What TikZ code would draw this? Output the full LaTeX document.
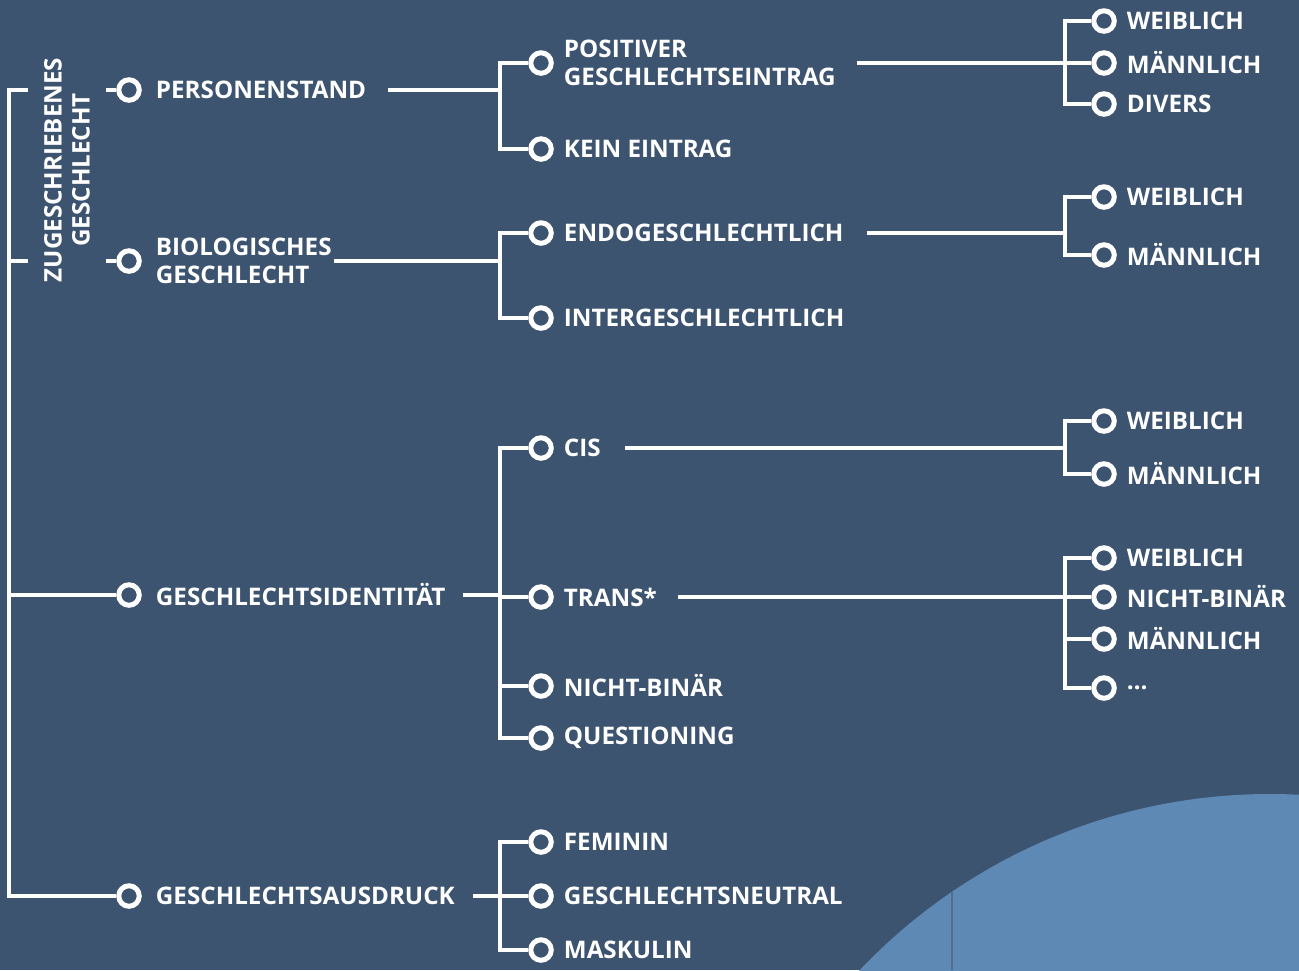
\documentclass[tikz,border=0pt]{standalone}
\usepackage{fontspec}
\newfontfamily\treefont{Open Sans}
\usetikzlibrary{positioning}
\definecolor{bgblue}{RGB}{60,84,112}
\definecolor{arcblue}{RGB}{94,137,181}
\definecolor{seamblue}{RGB}{78,110,146}
\tikzset{
  ring/.style={circle, draw=white, line width=5pt, fill=bgblue, minimum size=20.5pt, inner sep=0pt},
  lbl/.style={text=white, font=\treefont\bfseries\fontsize{24.2}{28}\selectfont, align=left, inner sep=0pt},
  link/.style={draw=white, line width=4.2pt},
}

\begin{document}
\begin{tikzpicture}[x=1pt, y=-1pt]
  % background and the arc in the corner
  \fill[bgblue] (0,0) rectangle (1299,970);
  \useasboundingbox (0,0) rectangle (1299,970);
  \begin{scope}
    \clip (0,0) rectangle (1299,970);
    \fill[arcblue] (1270,1360) circle (566pt);
  \end{scope}
  \draw[seamblue, line width=1.2pt] (952,892) -- (952,970);

  % columns of the brackets
  \coordinate (col1) at (9,0);
  \coordinate (col2) at (500,0);
  \coordinate (col4) at (1065,0);

  \node[lbl, rotate=90, align=center] (zug) at (67,170) {ZUGESCHRIEBENES\\GESCHLECHT};

  % first level
  \foreach \n/\y/\t in {pers/90/PERSONENSTAND, bio/261/{BIOLOGISCHES\\GESCHLECHT},
                        ident/595/GESCHLECHTSIDENTITÄT, ausdr/896/GESCHLECHTSAUSDRUCK}
  {
    \node[ring] (\n) at (129,\y) {};
    \node[lbl, right=14pt of \n] (\n-t) {\t};
  }

  % second level
  \foreach \n/\y/\t in {pos/63/{POSITIVER\\GESCHLECHTSEINTRAG}, kein/149/KEIN EINTRAG,
                        endo/233/ENDOGESCHLECHTLICH, inter/318/INTERGESCHLECHTLICH,
                        cis/448/CIS, trans/597/TRANS*, nb/686/NICHT-BINÄR, quest/738/QUESTIONING,
                        fem/842/FEMININ, neutr/896/GESCHLECHTSNEUTRAL, mask/950/MASKULIN}
  {
    \node[ring] (\n) at (541,\y) {};
    \node[lbl, right=10pt of \n] (\n-t) {\t};
  }

  % third level
  \foreach \n/\y/\t in {pw/21/WEIBLICH, pm/63/MÄNNLICH, pd/104/DIVERS,
                        ew/197/WEIBLICH, em/255/MÄNNLICH,
                        cw/421/WEIBLICH, cm/474/MÄNNLICH,
                        tw/558/WEIBLICH, tn/597/NICHT-BINÄR, tm/639/MÄNNLICH, tx/688/{\ldots}}
  {
    \node[ring] (\n) at (1104,\y) {};
    \node[lbl, right=10pt of \n] (\n-t) {\t};
  }

  % root bracket
  \coordinate (tick1) at (28,90);
  \coordinate (tick2) at (28,261);
  \coordinate (stub1) at (106,90);
  \coordinate (stub2) at (106,261);
  \draw[link] (tick1) -- (tick1 -| col1) |- (ausdr);
  \draw[link] (tick2) -- (tick2 -| col1);
  \draw[link] (ident -| col1) -- (ident);
  \draw[link] (stub1) -- (pers);
  \draw[link] (stub2) -- (bio);

  % first level to second level
  \coordinate (j1) at (pers-t.east -| col2);
  \coordinate (j2) at (bio-t.east -| col2);
  \coordinate (j3) at (ident-t.east -| col2);
  \coordinate (j4) at (ausdr-t.east -| col2);
  \draw[link] ([xshift=22pt]pers-t.east) -- (j1);
  \draw[link] ([xshift=2pt]bio-t.east) -- (j2);
  \draw[link] ([xshift=17pt]ident-t.east) -- (j3);
  \draw[link] ([xshift=18pt]ausdr-t.east) -- (j4);
  \draw[link] (pos) -| (j1) |- (kein);
  \draw[link] (endo) -| (j2) |- (inter);
  \draw[link] (cis) -| (j3) |- (quest);
  \draw[link] (trans -| col2) -- (trans);
  \draw[link] (nb -| col2) -- (nb);
  \draw[link] (fem) -| (j4) |- (mask);
  \draw[link] (neutr -| col2) -- (neutr);

  % second level to third level
  \coordinate (k1) at (pos -| col4);
  \coordinate (k2) at (endo -| col4);
  \coordinate (k3) at (cis -| col4);
  \coordinate (k4) at (trans -| col4);
  \draw[link] ([xshift=21pt]pos-t.east) -- (k1);
  \draw[link] ([xshift=23pt]endo-t.east) -- (k2);
  \draw[link] ([xshift=24pt]cis-t.east) -- (k3);
  \draw[link] ([xshift=21pt]trans-t.east) -- (k4);
  \draw[link] (pw) -| (k1) |- (pd);
  \draw[link] (k1) -- (pm);
  \draw[link] (ew) -| (k2) |- (em);
  \draw[link] (cw) -| (k3) |- (cm);
  \draw[link] (tw) -| (k4) |- (tx);
  \draw[link] (k4) -- (tn);
  \draw[link] (tm -| col4) -- (tm);
\end{tikzpicture}
\end{document}
